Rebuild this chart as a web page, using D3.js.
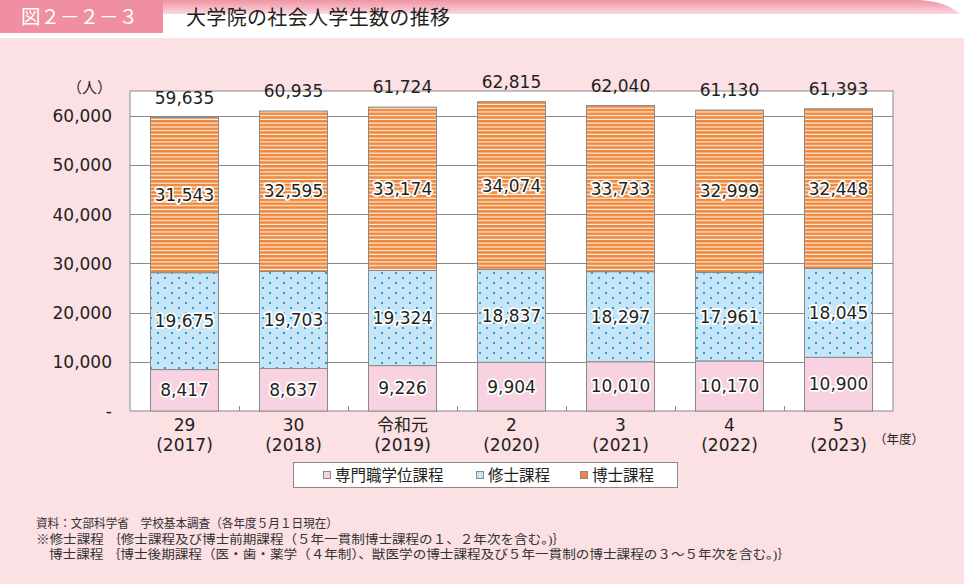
<!DOCTYPE html>
<html><head><meta charset="utf-8">
<script src="https://cdn.jsdelivr.net/npm/d3@7"></script>
<style>
html,body{margin:0;padding:0;background:#fbe0e4;}
svg{display:block;}
</style></head>
<body>
<svg id="chart" width="964" height="584"></svg>
<script>
const categories = ["29","30","令和元","2","3","4","5"];
const yearLabels = ["(2017)","(2018)","(2019)","(2020)","(2021)","(2022)","(2023)"];
const professional = [8417,8637,9226,9904,10010,10170,10900];
const master = [19675,19703,19324,18837,18297,17961,18045];
const doctor = [31543,32595,33174,34074,33733,32999,32448];
const totals = [59635,60935,61724,62815,62040,61130,61393];
const seriesNames = ["専門職学位課程","修士課程","博士課程"];
const yTicks = [0,10000,20000,30000,40000,50000,60000];
const notes = [
  "資料：文部科学省　学校基本調査（各年度５月１日現在）",
  "※修士課程 ｛修士課程及び博士前期課程（５年一貫制博士課程の１、２年次を含む。)｝",
  "博士課程 ｛博士後期課程（医・歯・薬学（４年制）、獣医学の博士課程及び５年一貫制の博士課程の３～５年次を含む。)｝"
];

const svg = d3.select("#chart");
const numFont = "'DejaVu Sans', sans-serif";
const jpFont = "'Noto Sans CJK JP', sans-serif";
const ink = "#231f20";

// defs
const defs = svg.append("defs");
const g1 = defs.append("linearGradient").attr("id","hdr").attr("x1",0).attr("y1",0).attr("x2",0).attr("y2",1);
g1.append("stop").attr("offset","0%").attr("stop-color","#ef93a5");
g1.append("stop").attr("offset","18%").attr("stop-color","#f5b3c0");
g1.append("stop").attr("offset","55%").attr("stop-color","#ffffff");
g1.append("stop").attr("offset","100%").attr("stop-color","#ffffff");

const pStripe = defs.append("pattern").attr("id","stripe").attr("patternUnits","userSpaceOnUse")
  .attr("width",8).attr("height",3.75);
pStripe.append("rect").attr("width",8).attr("height",3.75).attr("fill","#f0873a");
pStripe.append("rect").attr("y",2.6).attr("width",8).attr("height",1.15).attr("fill","#fdf1e8");

const pDot = defs.append("pattern").attr("id","dots").attr("patternUnits","userSpaceOnUse")
  .attr("width",14).attr("height",10);
pDot.append("rect").attr("width",14).attr("height",10).attr("fill","#c6e6f8");
pDot.append("rect").attr("x",3).attr("y",2).attr("width",2).attr("height",2).attr("fill","#1a9fe3");
pDot.append("rect").attr("x",10).attr("y",7).attr("width",2).attr("height",2).attr("fill","#1a9fe3");

const fills = ["#f9d2e1","url(#dots)","url(#stripe)"];
const legendFills = ["#f9d2e1","#c6e6f8","#f0873a"];

// header
svg.append("rect").attr("x",0).attr("y",0).attr("width",964).attr("height",38).attr("fill","#ffffff");
svg.append("path").attr("d","M163,0 H915 Q948,0 964,18 V38 H163 Z").attr("fill","url(#hdr)");
svg.append("rect").attr("x",163).attr("y",14).attr("width",801).attr("height",24).attr("fill","#ffffff");
svg.append("rect").attr("x",0).attr("y",38).attr("width",964).attr("height",546).attr("fill","#fbe0e4");
svg.append("rect").attr("x",0).attr("y",0).attr("width",163).attr("height",33).attr("fill","#ef8fa1");
svg.append("text").attr("x",21).attr("y",24).attr("font-family",jpFont).attr("font-size",19.5)
  .attr("fill","#ffffff").attr("textLength",117).text("図２－２－３");
svg.append("text").attr("x",186).attr("y",25).attr("font-family",jpFont).attr("font-size",20)
  .attr("fill",ink).attr("textLength",264).text("大学院の社会人学生数の推移");

// plot
const x0 = 130, x1 = 893, yTop = 91, yBot = 411;
const x = d3.scaleBand().domain(categories).range([x0,x1]).paddingInner(0.376).paddingOuter(0.188);
const y = d3.scaleLinear().domain([0,65000]).range([yBot,yTop]);

svg.append("rect").attr("x",x0).attr("y",yTop).attr("width",x1-x0).attr("height",yBot-yTop)
  .attr("fill","#ffffff").attr("stroke","#8a8a8a").attr("stroke-width",1);

// grid
svg.append("g").selectAll("line").data(yTicks.filter(d=>d>0)).join("line")
  .attr("x1",x0).attr("x2",x1).attr("y1",d=>Math.round(y(d))+0.5).attr("y2",d=>Math.round(y(d))+0.5)
  .attr("stroke","#8a8a8a").attr("stroke-width",1);

// y axis labels
const yAxis = d3.axisLeft(y).tickValues(yTicks).tickSize(0).tickPadding(0)
  .tickFormat(d => d===0 ? "-" : d3.format(",")(d));
const ya = svg.append("g").attr("transform",`translate(112,0)`).call(yAxis);
ya.select(".domain").remove();
ya.selectAll("text").attr("font-family",numFont).attr("font-size",17).attr("fill",ink).attr("dy","0.35em");
svg.append("text").attr("x",112).attr("y",93).attr("text-anchor","end").attr("font-family",jpFont)
  .attr("font-size",15).attr("fill",ink).text("（人）");

// category separator ticks
const step = x.step();
svg.append("g").selectAll("line").data(categories.slice(1)).join("line")
  .attr("x1",d=>Math.round(x(d)-x.paddingInner()*step/2)+0.5)
  .attr("x2",d=>Math.round(x(d)-x.paddingInner()*step/2)+0.5)
  .attr("y1",yBot-5).attr("y2",yBot).attr("stroke","#8a8a8a");

// stacked bars
const rows = categories.map((c,i)=>({cat:c, a:professional[i], b:master[i], c2:doctor[i]}));
const stack = d3.stack().keys(["a","b","c2"])(rows);
const barsG = svg.append("g");
stack.forEach((layer,li)=>{
  barsG.append("g").selectAll("rect").data(layer).join("rect")
    .attr("x",d=>x(d.data.cat)).attr("width",x.bandwidth())
    .attr("y",d=>y(d[1])).attr("height",d=>y(d[0])-y(d[1]))
    .attr("fill",fills[li]).attr("stroke","#8a8a8a").attr("stroke-width",1);
});
stack.forEach((layer,li)=>{
  barsG.append("g").selectAll("text").data(layer).join("text")
    .attr("x",d=>x(d.data.cat)+x.bandwidth()/2)
    .attr("y",d=>(y(d[0])+y(d[1]))/2).attr("dy","0.36em")
    .attr("text-anchor","middle").attr("font-family",numFont).attr("font-size",17).attr("fill",ink)
    .attr("stroke","#ffffff").attr("stroke-width",3.5).attr("stroke-linejoin","round")
    .attr("paint-order","stroke")
    .text(d=>d3.format(",")(d[1]-d[0]));
});
// totals
svg.append("g").selectAll("text").data(categories).join("text")
  .attr("x",d=>x(d)+x.bandwidth()/2).attr("y",(d,i)=>y(totals[i])-20).attr("dy","0.36em")
  .attr("text-anchor","middle").attr("font-family",numFont).attr("font-size",17).attr("fill",ink)
  .text((d,i)=>d3.format(",")(totals[i]));

// x labels
const xl = svg.append("g");
xl.selectAll("text.cat").data(categories).join("text").attr("class","cat")
  .attr("x",d=>x(d)+x.bandwidth()/2).attr("y",431).attr("text-anchor","middle")
  .attr("font-family",(d)=>/^\d+$/.test(d)?numFont:jpFont).attr("font-size",17).attr("fill",ink).text(d=>d);
xl.selectAll("text.yr").data(categories).join("text").attr("class","yr")
  .attr("x",d=>x(d)+x.bandwidth()/2).attr("y",451).attr("text-anchor","middle")
  .attr("font-family",numFont).attr("font-size",17).attr("fill",ink).text((d,i)=>yearLabels[i]);
svg.append("text").attr("x",874).attr("y",444).attr("font-family",jpFont).attr("font-size",12.5)
  .attr("fill",ink).text("（年度）");

// legend
svg.append("rect").attr("x",293.5).attr("y",462.5).attr("width",384).attr("height",25)
  .attr("fill","#ffffff").attr("stroke","#8a8a8a");
const legX = [323, 476, 580];
const lg = svg.append("g").selectAll("g").data(seriesNames).join("g")
  .attr("transform",(d,i)=>`translate(${legX[i]},475)`);
lg.append("rect").attr("x",0.5).attr("y",-3.5).attr("width",7).attr("height",7)
  .attr("fill",(d,i)=>legendFills[i]).attr("stroke","#8a8a8a");
lg.append("text").attr("x",12).attr("y",0).attr("dy","0.36em").attr("font-family",jpFont)
  .attr("font-size",15.5).attr("fill",ink).text(d=>d);

// notes
const noteX = [36, 36, 49];
const noteY = [523, 539, 554];
const noteW = [302, 530, 742];
svg.append("g").selectAll("text").data(notes).join("text")
  .attr("x",(d,i)=>noteX[i]).attr("y",(d,i)=>noteY[i]).attr("dy","0.36em")
  .attr("font-family","'Liberation Serif','Noto Sans CJK JP',serif").attr("font-size",12.5)
  .attr("fill","#333333").attr("textLength",(d,i)=>noteW[i]).attr("lengthAdjust","spacingAndGlyphs")
  .text(d=>d);
</script>
</body></html>
